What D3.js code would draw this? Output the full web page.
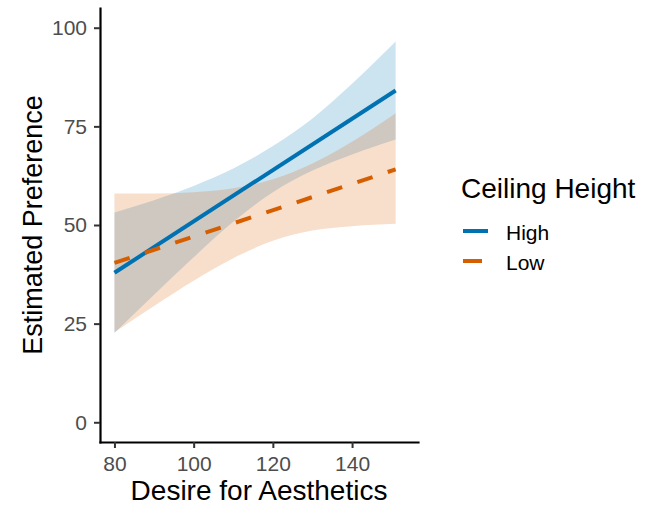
<!DOCTYPE html>
<html>
<head>
<meta charset="utf-8">
<script src="https://cdn.jsdelivr.net/npm/d3@7"></script>
<style>
  body { margin: 0; background: #fff; }
  text { font-family: "Liberation Sans", Arial, sans-serif; }
</style>
</head>
<body>
<div id="chart"></div>
<script>
// values
var xGrid = [80, 90, 100, 110, 120, 130, 140, 151];
var highLower = [22.6, 32.3, 41.8, 50.8, 58.3, 63.8, 67.9, 71.7];
var highUpper = [53.2, 56.3, 59.9, 64.3, 70.0, 77.0, 85.8, 96.5];
var lowLower = [22.8, 29.5, 35.9, 41.6, 46.0, 48.6, 49.7, 50.3];
var lowUpper = [58.0, 58.0, 58.3, 59.3, 61.6, 65.6, 71.1, 78.3];

var fitX = [80, 151];
var highFit = [37.9, 84.1];
var lowFit = [40.4, 64.1];

var groups = ["High", "Low"];
var colors = ["#0072B2", "#D55E00"];
var xTicks = [80, 100, 120, 140];
var yTicks = [0, 25, 50, 75, 100];

var svgWidth = 651;
var svgHeight = 507;

var margin = {
  top: 8,
  right: 233,
  bottom: 65,
  left: 100
};

var width = svgWidth - margin.left - margin.right;
var height = svgHeight - margin.top - margin.bottom;

var svg = d3
  .select("#chart")
  .append("svg")
  .attr("width", svgWidth)
  .attr("height", svgHeight);

var chartGroup = svg.append("g")
  .attr("transform", `translate(${margin.left}, ${margin.top})`);

var xScale = d3.scaleLinear()
  .domain([76.35, 156.65])
  .range([0, width]);

var yScale = d3.scaleLinear()
  .domain([-5, 105])
  .range([height, 0]);

var color = d3.scaleOrdinal().domain(groups).range(colors);

var bands = [
  { name: "High", lower: highLower, upper: highUpper, fit: highFit },
  { name: "Low", lower: lowLower, upper: lowUpper, fit: lowFit }
];

var area = d3.area()
  .x(d => xScale(d.x))
  .y0(d => yScale(d.lo))
  .y1(d => yScale(d.hi))
  .curve(d3.curveMonotoneX);

// ribbons (Low drawn after High)
bands.forEach(function(b) {
  var pts = xGrid.map((x, i) => ({ x: x, lo: b.lower[i], hi: b.upper[i] }));
  chartGroup.append("path")
    .datum(pts)
    .attr("d", area)
    .attr("fill", color(b.name))
    .attr("fill-opacity", 0.2);
});

var line = d3.line()
  .x(d => xScale(d.x))
  .y(d => yScale(d.y));

bands.forEach(function(b) {
  var pts = fitX.map((x, i) => ({ x: x, y: b.fit[i] }));
  chartGroup.append("path")
    .datum(pts)
    .attr("d", line)
    .attr("fill", "none")
    .attr("stroke", color(b.name))
    .attr("stroke-width", 4)
    .attr("stroke-dasharray", b.name === "Low" ? "16,16" : null);
});

// axes
var bottomAxis = d3.axisBottom(xScale)
  .tickValues(xTicks)
  .tickSize(6)
  .tickSizeOuter(0)
  .tickPadding(8);

var leftAxis = d3.axisLeft(yScale)
  .tickValues(yTicks)
  .tickSize(6)
  .tickSizeOuter(0)
  .tickPadding(7);

var xAxis = chartGroup.append("g")
  .attr("transform", `translate(0, ${height})`)
  .call(bottomAxis);

var yAxis = chartGroup.append("g")
  .call(leftAxis);

[xAxis, yAxis].forEach(function(ax) {
  ax.select(".domain")
    .attr("stroke", "#000")
    .attr("stroke-width", 2.2)
    .attr("stroke-linecap", "square");
  ax.selectAll(".tick line")
    .attr("stroke", "#333")
    .attr("stroke-width", 2);
  ax.selectAll(".tick text")
    .attr("fill", "#4D4D4D")
    .style("font-size", "21px");
});

// axis titles
chartGroup.append("text")
  .attr("x", width / 2)
  .attr("y", height + 58)
  .attr("text-anchor", "middle")
  .style("font-size", "28px")
  .attr("fill", "#000")
  .text("Desire for Aesthetics");

chartGroup.append("text")
  .attr("transform", "rotate(-90)")
  .attr("x", 0 - (height / 2))
  .attr("y", 42 - margin.left)
  .attr("text-anchor", "middle")
  .style("font-size", "27px")
  .attr("fill", "#000")
  .text("Estimated Preference");

// legend
var legend = svg.append("g")
  .attr("transform", "translate(461, 198)");

legend.append("text")
  .attr("x", 0)
  .attr("y", 0)
  .style("font-size", "28px")
  .attr("fill", "#000")
  .text("Ceiling Height");

groups.forEach(function(g, i) {
  var row = legend.append("g")
    .attr("transform", `translate(0, ${33 + i * 30})`);
  row.append("line")
    .attr("x1", 2)
    .attr("x2", g === "Low" ? 21 : 27)
    .attr("y1", 0)
    .attr("y2", 0)
    .attr("stroke", color(g))
    .attr("stroke-width", 4);
  row.append("text")
    .attr("x", 45)
    .attr("y", 9)
    .style("font-size", "21px")
    .attr("fill", "#000")
    .text(g);
});
</script>
</body>
</html>
